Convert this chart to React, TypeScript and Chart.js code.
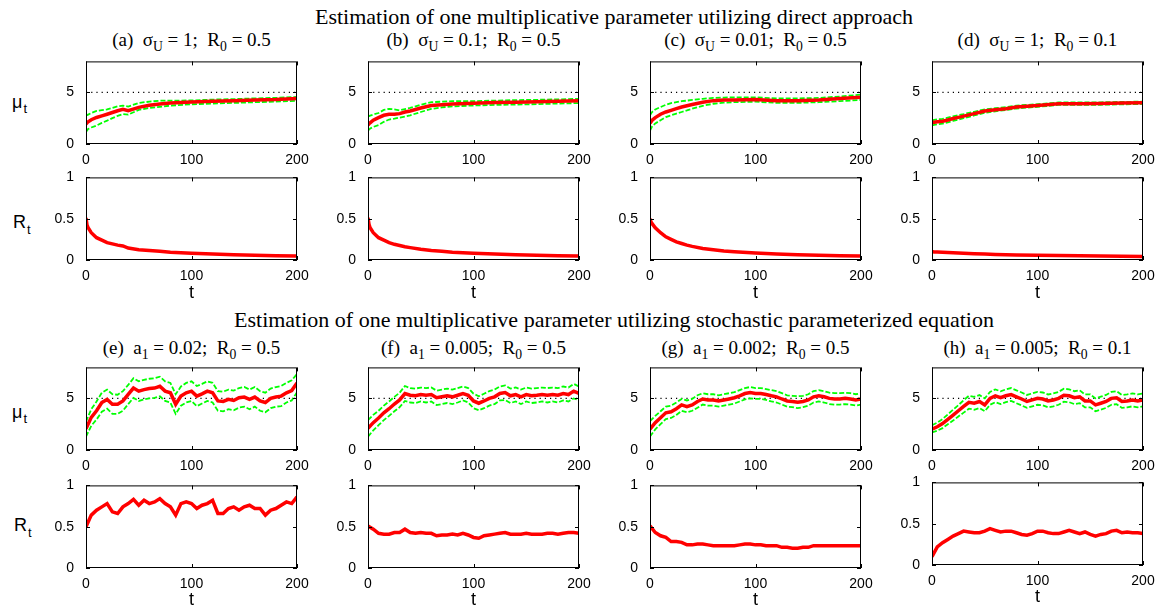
import React, { useEffect, useRef } from "react";
import { Chart, registerables } from "chart.js";
Chart.register(...registerables);

// ---------- data ----------
const T_SMOOTH = [0, 1, 2, 5, 10, 15, 20, 25, 30, 35, 40, 50, 60, 70, 80, 100, 120, 140, 160, 180, 200];
const T_NOISY = [0, 5, 10, 15, 20, 25, 30, 35, 40, 45, 50, 55, 60, 65, 70, 75, 80, 85, 90, 95, 100, 105, 110, 115, 120, 125, 130, 135, 140, 145, 150, 155, 160, 165, 170, 175, 180, 185, 190, 195, 200];

const X_TICKS = [0, 100, 200];
const MU_TICKS = [0, 5];
const R_TICKS = [0, 0.5, 1];
const MU_TRUE = 5;

// (a)
const A_MU = [1.94, 2.05, 2.15, 2.35, 2.57, 2.72, 2.88, 3.05, 3.22, 3.35, 3.22, 3.55, 3.75, 3.88, 3.97, 4.07, 4.14, 4.2, 4.25, 4.3, 4.4];
const A_UP = [2.73, 2.8, 2.85, 3.0, 3.2, 3.28, 3.35, 3.5, 3.65, 3.72, 3.62, 3.98, 4.1, 4.2, 4.2, 4.22, 4.3, 4.35, 4.42, 4.47, 4.55];
const A_LO = [1.16, 1.3, 1.45, 1.6, 1.79, 2.05, 2.26, 2.5, 2.73, 2.9, 2.85, 3.3, 3.5, 3.6, 3.72, 3.85, 3.92, 3.98, 4.05, 4.1, 4.18];
const A_R = [0.51, 0.42, 0.39, 0.33, 0.27, 0.24, 0.21, 0.195, 0.18, 0.17, 0.145, 0.125, 0.115, 0.105, 0.095, 0.082, 0.072, 0.064, 0.058, 0.052, 0.048];
// (b)
const B_MU = [1.84, 1.95, 2.05, 2.3, 2.56, 2.78, 2.88, 2.88, 2.94, 3.1, 3.2, 3.48, 3.73, 3.8, 3.88, 3.95, 4.02, 4.05, 4.1, 4.15, 4.18];
const B_UP = [2.63, 2.7, 2.75, 2.85, 3.0, 3.3, 3.4, 3.35, 3.26, 3.38, 3.5, 3.8, 4.05, 4.1, 4.15, 4.15, 4.2, 4.25, 4.28, 4.32, 4.37];
const B_LO = [1.3, 1.4, 1.5, 1.65, 1.84, 2.15, 2.37, 2.45, 2.56, 2.65, 2.78, 3.1, 3.4, 3.55, 3.64, 3.73, 3.78, 3.82, 3.86, 3.92, 3.96];
const B_R = [0.51, 0.43, 0.39, 0.33, 0.27, 0.24, 0.21, 0.19, 0.175, 0.16, 0.15, 0.13, 0.115, 0.105, 0.095, 0.083, 0.073, 0.065, 0.058, 0.052, 0.048];
// (c)
const C_MU = [2.0, 2.15, 2.3, 2.56, 2.88, 3.1, 3.26, 3.42, 3.58, 3.7, 3.83, 4.05, 4.2, 4.27, 4.27, 4.3, 4.2, 4.2, 4.27, 4.4, 4.52];
const C_UP = [2.78, 2.95, 3.1, 3.35, 3.58, 3.8, 3.96, 4.05, 4.15, 4.2, 4.27, 4.38, 4.46, 4.5, 4.52, 4.52, 4.42, 4.42, 4.46, 4.6, 4.78];
const C_LO = [1.3, 1.5, 1.7, 2.0, 2.3, 2.6, 2.78, 2.95, 3.1, 3.25, 3.42, 3.7, 3.9, 4.0, 4.05, 4.1, 3.98, 3.98, 4.05, 4.15, 4.27];
const C_R = [0.5, 0.46, 0.44, 0.39, 0.33, 0.28, 0.25, 0.22, 0.2, 0.18, 0.165, 0.14, 0.125, 0.11, 0.1, 0.085, 0.074, 0.065, 0.058, 0.052, 0.048];
// (d)
const D_MU = [2.06, 2.08, 2.1, 2.15, 2.2, 2.33, 2.47, 2.58, 2.7, 2.82, 2.94, 3.2, 3.32, 3.42, 3.58, 3.73, 3.9, 3.9, 3.92, 3.96, 3.99];
const D_UP = [2.3, 2.32, 2.34, 2.38, 2.43, 2.55, 2.68, 2.8, 2.9, 3.02, 3.12, 3.36, 3.47, 3.56, 3.72, 3.85, 4.02, 4.02, 4.04, 4.08, 4.1];
const D_LO = [1.8, 1.82, 1.85, 1.9, 1.97, 2.1, 2.25, 2.37, 2.5, 2.62, 2.76, 3.03, 3.17, 3.28, 3.44, 3.6, 3.78, 3.78, 3.8, 3.84, 3.88];
const D_R = [0.1, 0.099, 0.098, 0.096, 0.093, 0.09, 0.087, 0.084, 0.081, 0.078, 0.076, 0.072, 0.068, 0.065, 0.062, 0.057, 0.053, 0.05, 0.047, 0.044, 0.042];
// (e)
const E_MU = [2.06, 3.16, 3.8, 4.6, 4.9, 4.43, 4.43, 4.75, 5.38, 6.0, 5.7, 5.85, 5.95, 6.0, 6.17, 5.7, 5.54, 4.43, 5.22, 5.54, 5.7, 5.22, 5.44, 5.7, 5.54, 4.75, 4.7, 4.9, 4.8, 5.06, 5.13, 4.9, 5.13, 4.75, 4.6, 5.0, 5.13, 5.22, 5.54, 5.76, 6.5];
const E_UP = [2.75, 3.95, 4.7, 5.55, 5.85, 5.4, 5.35, 5.7, 6.3, 6.95, 6.65, 6.8, 6.9, 6.95, 7.1, 6.65, 6.5, 5.4, 6.15, 6.5, 6.65, 6.2, 6.4, 6.65, 6.5, 5.7, 5.65, 5.85, 5.75, 6.0, 6.1, 5.85, 6.1, 5.7, 5.55, 5.95, 6.1, 6.2, 6.5, 6.75, 7.35];
const E_LO = [1.3, 2.35, 2.95, 3.7, 4.0, 3.5, 3.5, 3.8, 4.45, 5.05, 4.75, 4.9, 5.0, 5.05, 5.2, 4.75, 4.6, 3.5, 4.3, 4.6, 4.75, 4.25, 4.5, 4.75, 4.6, 3.8, 3.75, 3.95, 3.85, 4.1, 4.2, 3.95, 4.2, 3.8, 3.65, 4.05, 4.2, 4.25, 4.6, 4.8, 5.6];
const E_R = [0.5, 0.64, 0.7, 0.74, 0.78, 0.68, 0.66, 0.74, 0.78, 0.83, 0.76, 0.82, 0.78, 0.8, 0.84, 0.78, 0.74, 0.64, 0.78, 0.8, 0.78, 0.72, 0.76, 0.78, 0.82, 0.66, 0.66, 0.72, 0.74, 0.7, 0.74, 0.76, 0.72, 0.72, 0.64, 0.7, 0.72, 0.76, 0.8, 0.78, 0.86];
// (f)
const F_MU = [2.1, 2.65, 3.1, 3.6, 4.0, 4.45, 4.85, 5.47, 5.3, 5.25, 5.37, 5.3, 5.37, 5.06, 5.15, 5.25, 5.15, 5.3, 5.47, 5.3, 4.75, 4.53, 4.75, 5.0, 5.15, 5.47, 5.56, 5.25, 5.37, 5.15, 5.37, 5.25, 5.3, 5.37, 5.3, 5.37, 5.3, 5.47, 5.37, 5.7, 5.47];
const F_UP = [2.9, 3.4, 3.8, 4.3, 4.7, 5.15, 5.55, 6.2, 6.0, 5.95, 6.05, 6.0, 6.05, 5.75, 5.85, 5.95, 5.85, 6.0, 6.15, 6.0, 5.45, 5.2, 5.45, 5.7, 5.85, 6.15, 6.25, 5.95, 6.05, 5.85, 6.05, 5.95, 6.0, 6.05, 6.0, 6.05, 6.0, 6.15, 6.05, 6.4, 6.15];
const F_LO = [1.3, 1.9, 2.4, 2.9, 3.3, 3.75, 4.15, 4.75, 4.6, 4.55, 4.7, 4.6, 4.7, 4.35, 4.45, 4.55, 4.45, 4.6, 4.8, 4.6, 4.05, 3.85, 4.05, 4.3, 4.45, 4.8, 4.85, 4.55, 4.7, 4.45, 4.7, 4.55, 4.6, 4.7, 4.6, 4.7, 4.6, 4.8, 4.7, 5.0, 4.8];
const F_R = [0.51, 0.47, 0.42, 0.41, 0.41, 0.43, 0.43, 0.47, 0.43, 0.42, 0.43, 0.42, 0.42, 0.39, 0.4, 0.4, 0.41, 0.4, 0.42, 0.4, 0.37, 0.36, 0.39, 0.4, 0.41, 0.42, 0.43, 0.41, 0.41, 0.41, 0.42, 0.41, 0.41, 0.41, 0.42, 0.42, 0.41, 0.42, 0.43, 0.43, 0.42];
// (g)
const G_MU = [2.03, 2.65, 3.12, 3.6, 3.7, 4.0, 4.37, 4.2, 4.37, 4.7, 4.94, 4.85, 4.85, 4.75, 4.85, 4.94, 5.06, 5.25, 5.47, 5.56, 5.47, 5.47, 5.37, 5.25, 5.15, 4.94, 4.75, 4.7, 4.62, 4.7, 4.85, 5.15, 5.25, 5.15, 5.0, 4.94, 4.94, 5.0, 4.94, 4.85, 4.94];
const G_UP = [2.8, 3.3, 3.75, 4.2, 4.3, 4.6, 4.95, 4.8, 4.95, 5.3, 5.5, 5.4, 5.4, 5.3, 5.4, 5.5, 5.6, 5.8, 6.0, 6.1, 6.0, 6.0, 5.9, 5.8, 5.7, 5.5, 5.3, 5.25, 5.2, 5.25, 5.4, 5.7, 5.8, 5.7, 5.55, 5.5, 5.5, 5.55, 5.5, 5.4, 5.5];
const G_LO = [1.3, 2.0, 2.5, 3.0, 3.1, 3.4, 3.8, 3.65, 3.8, 4.1, 4.4, 4.3, 4.3, 4.2, 4.3, 4.4, 4.5, 4.7, 4.9, 5.0, 4.95, 4.95, 4.85, 4.7, 4.6, 4.4, 4.2, 4.15, 4.05, 4.15, 4.3, 4.6, 4.7, 4.6, 4.45, 4.4, 4.4, 4.45, 4.4, 4.3, 4.4];
const G_R = [0.51, 0.43, 0.39, 0.37, 0.32, 0.32, 0.31, 0.28, 0.28, 0.29, 0.29, 0.28, 0.27, 0.27, 0.27, 0.27, 0.27, 0.28, 0.29, 0.29, 0.28, 0.28, 0.27, 0.27, 0.27, 0.25, 0.25, 0.24, 0.24, 0.25, 0.25, 0.27, 0.27, 0.27, 0.27, 0.27, 0.27, 0.27, 0.27, 0.27, 0.27];
// (h)
const H_MU = [2.03, 2.25, 2.56, 2.97, 3.37, 3.8, 4.22, 4.62, 4.53, 4.7, 4.37, 5.0, 5.25, 5.06, 5.25, 5.37, 5.15, 4.94, 4.7, 4.85, 5.0, 4.94, 4.75, 4.85, 5.0, 5.3, 5.25, 5.06, 5.15, 4.75, 4.75, 4.37, 4.53, 4.7, 5.0, 5.06, 4.7, 4.75, 4.85, 4.75, 4.85];
const H_UP = [2.4, 2.65, 3.0, 3.45, 3.9, 4.35, 4.82, 5.25, 5.15, 5.32, 5.0, 5.62, 5.87, 5.68, 5.87, 6.0, 5.78, 5.57, 5.33, 5.48, 5.63, 5.57, 5.38, 5.48, 5.63, 5.93, 5.88, 5.69, 5.78, 5.38, 5.38, 5.0, 5.16, 5.33, 5.63, 5.69, 5.33, 5.38, 5.48, 5.38, 5.48];
const H_LO = [1.7, 1.87, 2.12, 2.5, 2.85, 3.25, 3.62, 4.0, 3.9, 4.07, 3.75, 4.38, 4.63, 4.44, 4.63, 4.75, 4.53, 4.32, 4.08, 4.23, 4.38, 4.32, 4.13, 4.23, 4.38, 4.68, 4.63, 4.44, 4.53, 4.13, 4.13, 3.75, 3.91, 4.08, 4.38, 4.44, 4.08, 4.13, 4.23, 4.13, 4.23];
const H_R = [0.1, 0.22, 0.27, 0.31, 0.35, 0.38, 0.41, 0.4, 0.39, 0.39, 0.41, 0.44, 0.42, 0.4, 0.41, 0.41, 0.39, 0.37, 0.36, 0.38, 0.41, 0.41, 0.39, 0.38, 0.38, 0.4, 0.42, 0.4, 0.38, 0.4, 0.37, 0.35, 0.37, 0.38, 0.41, 0.42, 0.39, 0.4, 0.39, 0.39, 0.38];

// text
const SECTION_TITLES = [
  "Estimation of one multiplicative parameter utilizing direct approach",
  "Estimation of one multiplicative parameter utilizing stochastic parameterized equation",
];
const TOP_TAGS = ["(a)", "(b)", "(c)", "(d)"];
const TOP_SIGMA = ["1", "0.1", "0.01", "1"];
const BOT_TAGS = ["(e)", "(f)", "(g)", "(h)"];
const BOT_A1 = ["0.02", "0.005", "0.002", "0.005"];
const R0_TOP = ["0.5", "0.5", "0.5", "0.1"];
const R0_BOT = ["0.5", "0.5", "0.5", "0.1"];

// ---------- layout ----------
const COL_LEFT = [86, 368, 650, 932];
const PLOT_W = 211;
const ROW_TOP = [59, 175, 365, 483];
const BOT_R_SHIFT = [0, 0, 0, -3];
const PLOT_H = 85;
const YW = 40;
const PADR = 18;
const PADT = 10;
const XH = 24;

const SANS = "'Liberation Sans', Arial, Helvetica, sans-serif";
const SERIF = "'Liberation Serif', 'Times New Roman', serif";

const boxPlugin = {
  id: "matlabBox",
  afterDatasetsDraw(chart: any) {
    const { ctx, chartArea: a, scales } = chart;
    ctx.save();
    ctx.strokeStyle = "#000";
    ctx.lineWidth = 1;
    ctx.strokeRect(a.left + 0.5, a.top + 0.5, a.right - a.left - 1, a.bottom - a.top - 1);
    const tl = 4;
    ctx.beginPath();
    scales.x.ticks.forEach((t: any) => {
      const px = Math.round(scales.x.getPixelForValue(t.value)) + 0.5;
      ctx.moveTo(px, a.bottom);
      ctx.lineTo(px, a.bottom - tl);
      ctx.moveTo(px, a.top);
      ctx.lineTo(px, a.top + tl);
    });
    scales.y.ticks.forEach((t: any) => {
      const py = Math.round(scales.y.getPixelForValue(t.value)) + 0.5;
      ctx.moveTo(a.left, py);
      ctx.lineTo(a.left + tl, py);
      ctx.moveTo(a.right, py);
      ctx.lineTo(a.right - tl, py);
    });
    ctx.stroke();
    ctx.restore();
  },
};

type PanelProps = {
  left: number;
  top: number;
  kind: "mu" | "r";
  t: number[];
  main: number[];
  upper?: number[];
  lower?: number[];
};

function Panel({ left, top, kind, t, main, upper, lower }: PanelProps) {
  const ref = useRef<HTMLCanvasElement>(null);
  const W = PLOT_W + YW + PADR;
  const H = PLOT_H + PADT + XH;
  useEffect(() => {
    if (!ref.current) return;
    const pts = (arr: number[]) => t.map((x, i) => ({ x, y: arr[i] }));
    const datasets: any[] = [
      {
        data: pts(main),
        borderColor: "#ff0000",
        borderWidth: 3.5,
        pointRadius: 0,
        tension: 0,
      },
    ];
    if (upper && lower) {
      datasets.push(
        { data: pts(upper), borderColor: "#00ff00", borderWidth: 1.8, borderDash: [5, 2], pointRadius: 0, tension: 0 },
        { data: pts(lower), borderColor: "#00ff00", borderWidth: 1.8, borderDash: [5, 2], pointRadius: 0, tension: 0 },
        {
          data: [
            { x: X_TICKS[0], y: MU_TRUE },
            { x: X_TICKS[X_TICKS.length - 1], y: MU_TRUE },
          ],
          borderColor: "#000",
          borderWidth: 1.2,
          borderDash: [1.2, 4],
          pointRadius: 0,
        }
      );
    }
    const yTicks = kind === "mu" ? MU_TICKS : R_TICKS;
    const chart = new Chart(ref.current, {
      type: "line",
      data: { datasets },
      plugins: [boxPlugin],
      options: {
        animation: false,
        responsive: false,
        events: [],
        layout: { padding: { left: 0, right: PADR, top: PADT, bottom: 0 } },
        plugins: { legend: { display: false }, tooltip: { enabled: false } },
        scales: {
          x: {
            type: "linear",
            min: 0,
            max: 200,
            grid: { display: false },
            border: { display: false },
            afterBuildTicks: (s: any) => {
              s.ticks = X_TICKS.map((v) => ({ value: v }));
            },
            afterFit: (s: any) => {
              s.height = XH;
            },
            ticks: {
              color: "#000",
              padding: 0,
              maxRotation: 0,
              font: { family: SANS, size: 14 },
              callback: (v: any) => String(v),
            },
          },
          y: {
            type: "linear",
            min: 0,
            max: kind === "mu" ? 8 : 1,
            grid: { display: false },
            border: { display: false },
            afterBuildTicks: (s: any) => {
              s.ticks = yTicks.map((v) => ({ value: v }));
            },
            afterFit: (s: any) => {
              s.width = YW;
            },
            ticks: {
              color: "#000",
              padding: 4,
              font: { family: SANS, size: 14 },
              callback: (v: any) => String(v),
            },
          },
        },
      },
    } as any);
    return () => chart.destroy();
  }, []);
  return (
    <canvas
      ref={ref}
      width={W}
      height={H}
      style={{ position: "absolute", left: left - YW, top: top - PADT, width: W, height: H }}
    />
  );
}

const subStyle: React.CSSProperties = { fontSize: "0.72em", position: "relative", top: "0.4em" };

function PanelTitle({ cx, cy, tag, sym, symSub, val, r0 }: any) {
  return (
    <div
      style={{
        position: "absolute",
        left: cx - 150,
        width: 300,
        top: cy - 10,
        lineHeight: "20px",
        textAlign: "center",
        fontFamily: SERIF,
        fontSize: 19,
        whiteSpace: "pre",
        color: "#000",
      }}
    >
      {tag}
      {"  "}
      {sym}
      <span style={subStyle}>{symSub}</span>
      {" = " + val + ";  R"}
      <span style={subStyle}>0</span>
      {" = " + r0}
    </div>
  );
}

function YLabel({ x, cy, main }: any) {
  return (
    <div
      style={{
        position: "absolute",
        left: x,
        top: cy - 11,
        lineHeight: "22px",
        fontFamily: SANS,
        fontSize: 18,
        color: "#000",
        whiteSpace: "pre",
      }}
    >
      {main}
      <span style={{ fontSize: "0.72em", position: "relative", top: "0.45em", marginLeft: 1 }}>t</span>
    </div>
  );
}

function XLabel({ cx, cy }: any) {
  return (
    <div
      style={{
        position: "absolute",
        left: cx - 20,
        width: 40,
        top: cy - 10,
        lineHeight: "20px",
        textAlign: "center",
        fontFamily: SANS,
        fontSize: 18,
        color: "#000",
      }}
    >
      t
    </div>
  );
}

export default function App() {
  const topMu = [
    [A_MU, A_UP, A_LO],
    [B_MU, B_UP, B_LO],
    [C_MU, C_UP, C_LO],
    [D_MU, D_UP, D_LO],
  ];
  const topR = [A_R, B_R, C_R, D_R];
  const botMu = [
    [E_MU, E_UP, E_LO],
    [F_MU, F_UP, F_LO],
    [G_MU, G_UP, G_LO],
    [H_MU, H_UP, H_LO],
  ];
  const botR = [E_R, F_R, G_R, H_R];
  const titleStyle: React.CSSProperties = {
    position: "absolute",
    left: 0,
    width: 1228,
    textAlign: "center",
    fontFamily: SERIF,
    fontSize: 22,
    lineHeight: "24px",
    color: "#000",
    whiteSpace: "pre",
  };
  return (
    <div style={{ position: "absolute", left: 0, top: 0, width: 1158, height: 611, background: "#fff", overflow: "hidden" }}>
      <div style={{ ...titleStyle, top: 5 }}>{SECTION_TITLES[0]}</div>
      <div style={{ ...titleStyle, top: 308 }}>{SECTION_TITLES[1]}</div>
      {COL_LEFT.map((L, i) => (
        <React.Fragment key={"c" + i}>
          <PanelTitle cx={L + PLOT_W / 2} cy={40} tag={TOP_TAGS[i]} sym={"σ"} symSub={"U"} val={TOP_SIGMA[i]} r0={R0_TOP[i]} />
          <Panel left={L} top={ROW_TOP[0]} kind="mu" t={T_SMOOTH} main={topMu[i][0]} upper={topMu[i][1]} lower={topMu[i][2]} />
          <Panel left={L} top={ROW_TOP[1]} kind="r" t={T_SMOOTH} main={topR[i]} />
          <XLabel cx={L + PLOT_W / 2} cy={292} />
          <PanelTitle cx={L + PLOT_W / 2} cy={348} tag={BOT_TAGS[i]} sym={"a"} symSub={"1"} val={BOT_A1[i]} r0={R0_BOT[i]} />
          <Panel left={L} top={ROW_TOP[2]} kind="mu" t={T_NOISY} main={botMu[i][0]} upper={botMu[i][1]} lower={botMu[i][2]} />
          <Panel left={L} top={ROW_TOP[3] + BOT_R_SHIFT[i]} kind="r" t={T_NOISY} main={botR[i]} />
          <XLabel cx={L + PLOT_W / 2} cy={599 + BOT_R_SHIFT[i]} />
        </React.Fragment>
      ))}
      <YLabel x={12} cy={101.5} main={"μ"} />
      <YLabel x={13} cy={222} main={"R"} />
      <YLabel x={12} cy={411.5} main={"μ"} />
      <YLabel x={14} cy={525} main={"R"} />
    </div>
  );
}
